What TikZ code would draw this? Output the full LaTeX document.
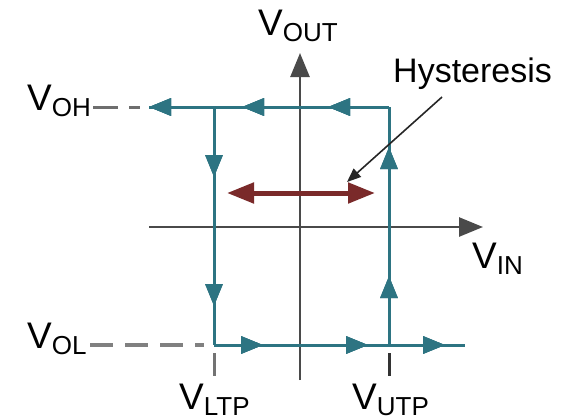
\documentclass[tikz,border=0pt]{standalone}
\usepackage{fontspec}
\setmainfont{Liberation Sans}
\usetikzlibrary{arrows.meta,decorations.markings}
\definecolor{loopc}{HTML}{2D7482}
\definecolor{axisc}{HTML}{4A4A4A}
\definecolor{redc}{HTML}{7A2A2A}
\newcommand{\vlab}[1]{{\fontsize{37}{40}\selectfont V}\raisebox{-6pt}{\fontsize{26}{28}\selectfont #1}}
\tikzset{
  axisline/.style={draw=axisc, line width=2.6pt, -{Triangle[length=24pt,width=19pt]}},
  loopline/.style={draw=loopc, line width=3pt},
  lab/.style={inner sep=0pt, anchor=base west},
  lt/.style={decoration={markings, mark=at position #1 with {\arrow{Triangle[length=22pt,width=17pt]}}}, postaction={decorate}},
}
\begin{document}
\begin{tikzpicture}[x=1pt,y=-1pt]
\useasboundingbox (0,0) rectangle (570,416);
% coordinates
\coordinate (axL) at (149,227);
\coordinate (axR) at (483,227);
\coordinate (axB) at (300,380);
\coordinate (axT) at (300,53);
\coordinate (tl) at (214,107);
\coordinate (tr) at (389,107);
\coordinate (bl) at (214,345);
\coordinate (br) at (389,345);
\coordinate (topend) at (149,107);
\coordinate (botend) at (465,345);
% axes
\draw[axisline] (axL) -- (axR);
\draw[axisline] (axB) -- (axT);
% dashed guide lines
\coordinate (ohA) at (93,107);
\coordinate (ohB) at (140,107);
\draw[draw=axisc!80, line width=3pt, dash pattern=on 25pt off 11pt on 11pt off 10pt] (ohA) -- (ohB);
\coordinate (olA) at (90,345);
\coordinate (olB) at (204,345);
\draw[draw=gray, line width=4pt, dash pattern=on 23pt off 12pt] (olA) -- (olB);
% ticks
\coordinate (t1a) at (214,353);
\coordinate (t1b) at (214,376);
\coordinate (t2a) at (389,353);
\coordinate (t2b) at (389,376);
\draw[draw=gray!90!black, line width=3pt] (t1a) -- (t1b);
\draw[draw=black!80, line width=3pt] (t2a) -- (t2b);
% hysteresis loop
\draw[loopline, lt=61pt, lt=147pt, lt=240pt] (tr) -- (topend);
\draw[loopline, lt=70pt, lt=199pt] (tl) -- (bl);
\draw[loopline, lt=49pt, lt=154pt, lt=231pt] (bl) -- (botend);
\draw[loopline, lt=69pt, lt=198pt] (br) -- (tr);
% red double arrow
\coordinate (rL) at (227,193);
\coordinate (rR) at (375,193);
\draw[draw=redc, line width=5pt, {Triangle[length=27pt,width=20pt]}-{Triangle[length=27pt,width=20pt]}] (rL) -- (rR);
% labels
\node[lab] (hys) at (393,82) {\fontsize{34}{38}\selectfont Hysteresis};
\coordinate (hysA) at (442,97);
\coordinate (hysB) at (347,182);
\draw[draw=black!85, line width=1.6pt, -{Triangle[length=14pt,width=11pt]}] (hysA) -- (hysB);
\node[lab] (vout) at (258,35) {\vlab{OUT}};
\node[lab] (voh) at (27,110) {\vlab{OH}};
\node[lab] (vol) at (27,348) {\vlab{OL}};
\node[lab] (vltp) at (179,409) {\vlab{LTP}};
\node[lab] (vutp) at (352,409) {\vlab{UTP}};
\node[lab] (vin) at (472,268) {\vlab{IN}};
\end{tikzpicture}
\end{document}
